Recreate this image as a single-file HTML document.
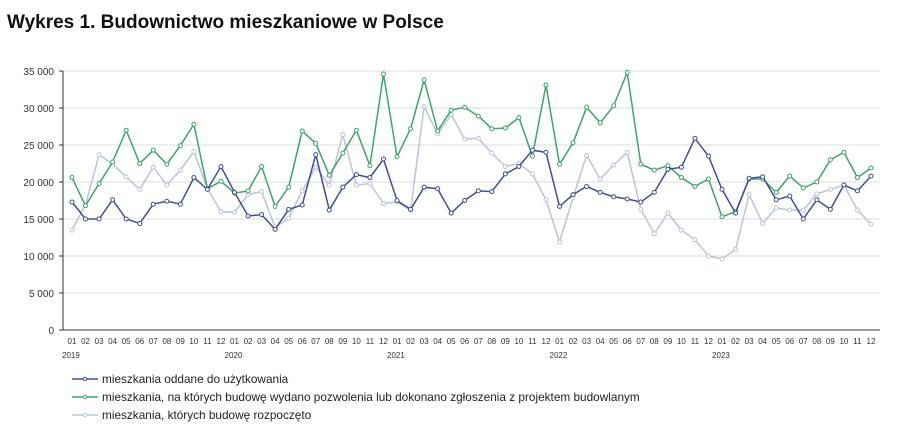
<!DOCTYPE html>
<html><head><meta charset="utf-8"><style>
body{margin:0;background:#fff;width:907px;height:435px;overflow:hidden;font-family:"Liberation Sans",sans-serif}
</style></head><body>
<svg id="s" width="907" height="435" xmlns="http://www.w3.org/2000/svg" font-family="Liberation Sans, sans-serif">
<text x="7" y="28" font-size="19" font-weight="bold" fill="#111">Wykres 1. Budownictwo mieszkaniowe w Polsce</text>
</svg>
<script>
var s=document.getElementById('s'),NS='http://www.w3.org/2000/svg';
function el(t,a,txt){var e=document.createElementNS(NS,t);for(var k in a)e.setAttribute(k,a[k]);if(txt!=null)e.textContent=txt;s.appendChild(e);return e;}
var y0=330,sc=259/35000,x0=72,dx=(871-72)/59;
function Y(v){return y0-v*1000*sc}
for(var i=0;i<=7;i++){var y=y0-i*5000*sc;
 if(i>0)el('line',{x1:63,x2:880,y1:y,y2:y,stroke:'#dcdcdc','stroke-width':1});
 el('line',{x1:59,x2:63,y1:y,y2:y,stroke:'#333'});
 el('text',{x:54,y:y+4,'font-size':10,'text-anchor':'end',fill:'#333'},i==0?'0':(i*5)+' 000');}
el('line',{x1:63,x2:63,y1:71,y2:330,stroke:'#333'});
el('line',{x1:63,x2:880,y1:330,y2:330,stroke:'#333'});
for(var j=0;j<60;j++){var m=(j%12)+1;el('text',{x:x0+j*dx,y:344,'font-size':8,'text-anchor':'middle',fill:'#333'},(m<10?'0':'')+m);
 if(m==1)el('text',{x:x0+j*dx-10,y:358,'font-size':8,fill:'#333'},2019+j/12);}
var B=[17.3,15,15,17.6,15,14.4,17,17.4,17,20.6,19,22.1,18.6,15.4,15.6,13.6,16.3,16.9,23.7,16.2,19.3,21,20.6,23.1,17.5,16.3,19.3,19.1,15.8,17.5,18.8,18.7,21.1,22.1,24.3,24,16.7,18.3,19.4,18.6,18,17.7,17.3,18.6,21.7,22,25.9,23.5,19,15.8,20.5,20.7,17.6,18.1,15,17.6,16.3,19.6,18.8,20.8];
var G=[20.6,16.8,19.8,22.7,27,22.5,24.3,22.4,24.9,27.8,19.1,20.1,18.5,18.8,22.1,16.7,19.3,26.9,25.2,20.9,23.9,27,22.2,34.6,23.4,27.2,33.8,26.9,29.7,30.1,28.9,27.2,27.3,28.7,23.5,33.1,22.4,25.3,30.1,28,30.3,34.8,22.4,21.6,22.2,20.6,19.4,20.4,15.3,16,20.4,20.4,18.6,20.8,19.2,20,23,24,20.6,21.9];
var L=[13.5,16.9,23.7,22.4,20.7,19,22,19.6,21.6,24.1,19.1,16,15.9,18.3,18.7,13.9,15.1,18.8,22,19.6,26.4,19.6,19.8,17.1,17.3,16.2,30.2,26.5,29.1,25.8,25.9,23.9,22.1,22.5,21.1,17.6,11.9,17.9,23.6,20.4,22.3,24,16.3,13,15.8,13.5,12.2,10,9.6,10.9,18.3,14.4,16.5,16.2,16.2,18.4,19,19.6,16.2,14.3];
function ser(d,c){var p=d.map(function(v,j){return (x0+j*dx).toFixed(1)+','+Y(v).toFixed(1)}).join(' ');
 el('polyline',{points:p,fill:'none',stroke:c,'stroke-width':1.5});
 d.forEach(function(v,j){el('circle',{cx:x0+j*dx,cy:Y(v),r:2,fill:'#fff',stroke:c,'stroke-width':1});});}
ser(L,'#bcc3de');ser(G,'#3aa66a');ser(B,'#3f4f9c');
var lg=[['#3f4f9c','mieszkania oddane do użytkowania'],['#3aa66a','mieszkania, na których budowę wydano pozwolenia lub dokonano zgłoszenia z projektem budowlanym'],['#bcc3de','mieszkania, których budowę rozpoczęto']];
lg.forEach(function(l,i){var y=379+i*18;el('line',{x1:72,x2:98,y1:y,y2:y,stroke:l[0],'stroke-width':1.5});
 el('circle',{cx:85,cy:y,r:1.8,fill:'#fff',stroke:l[0]});
 el('text',{x:102,y:y+4,'font-size':11.8,fill:'#222'},l[1]);});
</script>
</body></html>
